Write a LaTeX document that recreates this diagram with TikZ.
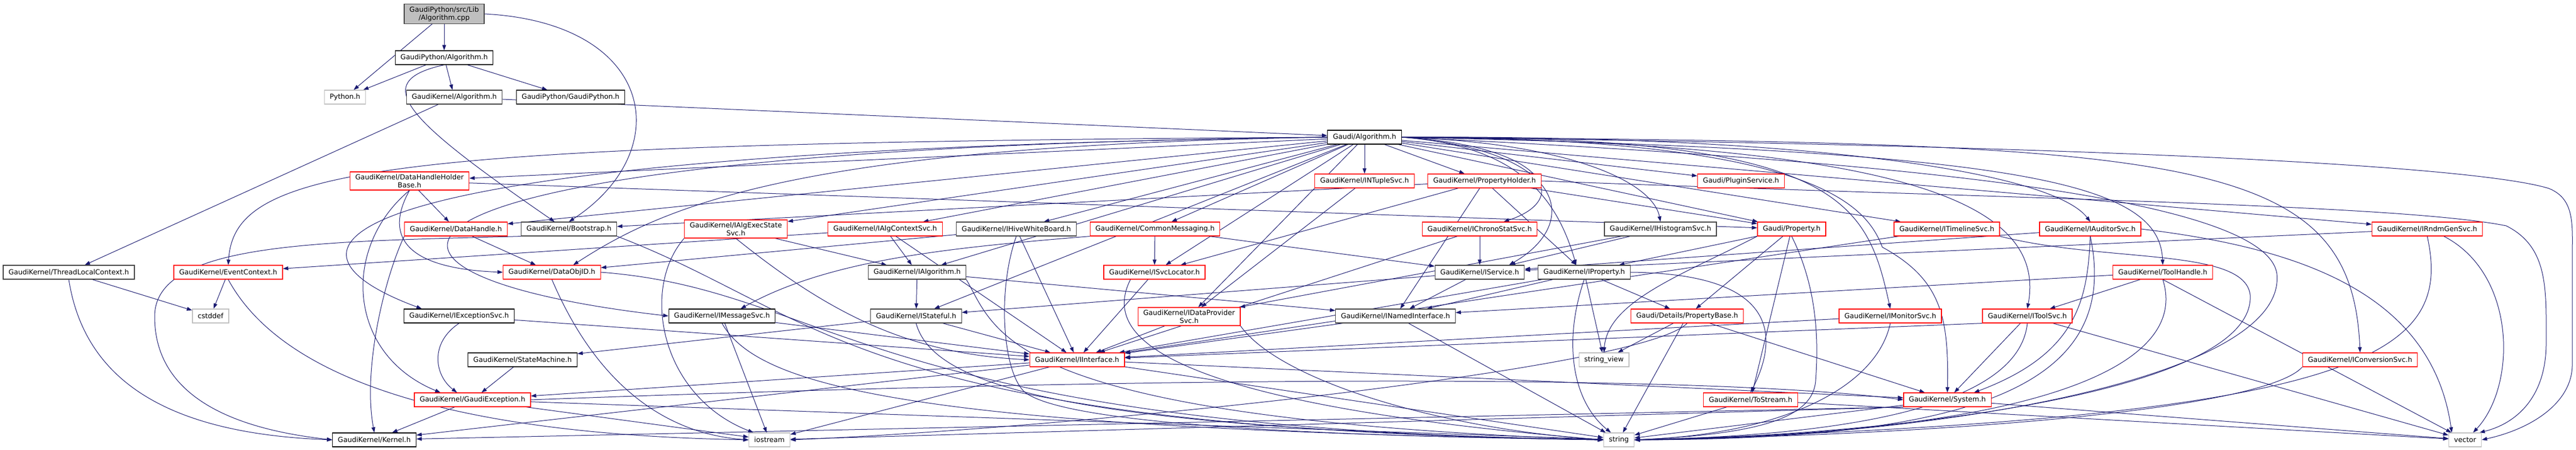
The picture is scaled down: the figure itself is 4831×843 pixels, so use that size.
\documentclass[tikz,border=0pt]{standalone}
\usepackage{fontspec}
\setmainfont{DejaVu Sans}
\usetikzlibrary{arrows.meta}
\definecolor{edgeblue}{RGB}{25,25,112}
\definecolor{boxgrey}{RGB}{64,64,64}
\definecolor{extgrey}{RGB}{191,191,191}
\definecolor{truncred}{RGB}{255,0,0}
\pgfdeclarelayer{background}
\pgfsetlayers{background,main}
\tikzset{
  filebox/.style={draw, fill=white, line width=1.2pt, inner xsep=10pt, inner ysep=4.5pt,
    minimum height=26pt, align=center, font=\fontsize{13}{15}\selectfont},
  redbox/.style={filebox, draw=truncred},
  blackbox/.style={filebox, draw=black},
  greybox/.style={filebox, draw=boxgrey},
  extbox/.style={filebox, draw=extgrey},
  rootbox/.style={filebox, draw=boxgrey, fill=extgrey},
  dep/.style={draw=edgeblue, line width=1pt, -{Triangle[length=10pt,width=7pt]}},
}
\begin{document}
\begin{tikzpicture}[x=1pt,y=1pt]
	\useasboundingbox (0,0) rectangle (4831,843);
	\node[rootbox] (root) at (833,817) {GaudiPython/src/Lib\\/Algorithm.cpp};
	\node[blackbox] (pyalg) at (833,735) {GaudiPython/Algorithm.h};
	\node[extbox] (python) at (647,661) {Python.h};
	\node[greybox] (gkalg) at (852,661) {GaudiKernel/Algorithm.h};
	\node[blackbox] (gaudipython) at (1070,661) {GaudiPython/GaudiPython.h};
	\node[blackbox] (galg) at (2559,586) {Gaudi/Algorithm.h};
	\node[redbox] (dhhb) at (768,504) {GaudiKernel/DataHandleHolder\\Base.h};
	\node[redbox] (ntuple) at (2559,504) {GaudiKernel/INTupleSvc.h};
	\node[redbox] (propholder) at (2784,504) {GaudiKernel/PropertyHolder.h};
	\node[redbox] (plugin) at (3265,504) {Gaudi/PluginService.h};
	\node[redbox] (dhandle) at (855,414) {GaudiKernel/DataHandle.h};
	\node[greybox] (bootstrap) at (1067,414) {GaudiKernel/Bootstrap.h};
	\node[redbox] (execstate) at (1380,414) {GaudiKernel/IAlgExecState\\Svc.h};
	\node[redbox] (algctx) at (1660,414) {GaudiKernel/IAlgContextSvc.h};
	\node[greybox] (hive) at (1906,414) {GaudiKernel/IHiveWhiteBoard.h};
	\node[redbox] (commsg) at (2166,414) {GaudiKernel/CommonMessaging.h};
	\node[redbox] (chrono) at (2775,414) {GaudiKernel/IChronoStatSvc.h};
	\node[greybox] (histo) at (3114,414) {GaudiKernel/IHistogramSvc.h};
	\node[redbox] (property) at (3360,414) {Gaudi/Property.h};
	\node[redbox] (timeline) at (3651,414) {GaudiKernel/ITimelineSvc.h};
	\node[redbox] (auditor) at (3920,414) {GaudiKernel/IAuditorSvc.h};
	\node[redbox] (rndm) at (4552,414) {GaudiKernel/IRndmGenSvc.h};
	\node[greybox] (tlc) at (129,333) {GaudiKernel/ThreadLocalContext.h};
	\node[redbox] (evtctx) at (428,333) {GaudiKernel/EventContext.h};
	\node[redbox] (dataobjid) at (1035,333) {GaudiKernel/DataObjID.h};
	\node[greybox] (ialg) at (1720,333) {GaudiKernel/IAlgorithm.h};
	\node[redbox] (svcloc) at (2165,333) {GaudiKernel/ISvcLocator.h};
	\node[greybox] (iservice) at (2775,333) {GaudiKernel/IService.h};
	\node[greybox] (iprop) at (2971,333) {GaudiKernel/IProperty.h};
	\node[redbox] (toolhandle) at (4056,333) {GaudiKernel/ToolHandle.h};
	\node[extbox] (cstddef) at (395,251) {cstddef};
	\node[blackbox] (excsvc) at (861,251) {GaudiKernel/IExceptionSvc.h};
	\node[blackbox] (msgsvc) at (1354,251) {GaudiKernel/IMessageSvc.h};
	\node[greybox] (stateful) at (1718,251) {GaudiKernel/IStateful.h};
	\node[redbox] (dataprov) at (2230,250) {GaudiKernel/IDataProvider\\Svc.h};
	\node[greybox] (named) at (2617,251) {GaudiKernel/INamedInterface.h};
	\node[redbox] (propbase) at (3164,251) {Gaudi/Details/PropertyBase.h};
	\node[redbox] (monitor) at (3545,251) {GaudiKernel/IMonitorSvc.h};
	\node[redbox] (toolsvc) at (3802,251) {GaudiKernel/IToolSvc.h};
	\node[blackbox] (statemachine) at (980,169) {GaudiKernel/StateMachine.h};
	\node[redbox] (iinterface) at (2020,169) {GaudiKernel/IInterface.h};
	\node[extbox] (strview) at (3008,169) {string\_view};
	\node[redbox] (convsvc) at (4426,169) {GaudiKernel/IConversionSvc.h};
	\node[redbox] (gexc) at (886,94) {GaudiKernel/GaudiException.h};
	\node[redbox] (tostream) at (3283,94) {GaudiKernel/ToStream.h};
	\node[redbox] (system) at (3652,94) {GaudiKernel/System.h};
	\node[blackbox] (kernel) at (702,19) {GaudiKernel/Kernel.h};
	\node[extbox] (iostream) at (1443,19) {iostream};
	\node[extbox] (string) at (3036,19) {string};
	\node[extbox] (vector) at (4623,19) {vector};
	\begin{pgfonlayer}{background}
	\fill[white] (0,0) rectangle (4831,843);
	\foreach \a/\b in {root/python, root/pyalg, pyalg/python, pyalg/gkalg, pyalg/gaudipython,
		gkalg/galg, gkalg/tlc,
		galg/ntuple, galg/propholder, galg/plugin, galg/dhhb, galg/dhandle, galg/execstate,
		galg/algctx, galg/hive, galg/commsg, galg/property, galg/timeline, galg/rndm,
		galg/ialg, galg/svcloc, galg/stateful, galg/dataprov,
		dhhb/dhandle, dhhb/property, ntuple/dataprov,
		propholder/property, propholder/bootstrap, propholder/svcloc, propholder/named, propholder/iprop,
		dhandle/dataobjid, execstate/ialg, algctx/evtctx, algctx/ialg, algctx/iinterface,
		hive/dataobjid, hive/iinterface, commsg/svcloc, commsg/iservice,
		chrono/iservice, chrono/iinterface, histo/iservice, histo/dataprov,
		property/iprop, property/propbase, property/tostream,
		timeline/iinterface, auditor/iservice, rndm/iservice,
		tlc/cstddef, evtctx/cstddef, ialg/stateful, ialg/named, svcloc/iinterface,
		iservice/named, iservice/stateful, iprop/propbase, iprop/strview, iprop/named, iprop/iinterface,
		toolhandle/toolsvc, toolhandle/named,
		excsvc/iinterface, msgsvc/iostream, msgsvc/iinterface, stateful/statemachine, stateful/iinterface,
		dataprov/iinterface, named/iinterface, named/string, propbase/strview, propbase/string, propbase/system,
		monitor/iinterface, toolsvc/system, toolsvc/vector,
		statemachine/gexc, iinterface/gexc, iinterface/kernel, iinterface/string, iinterface/system, iinterface/iostream,
		gexc/kernel, gexc/iostream, gexc/string, tostream/string, tostream/vector, system/string, system/vector}
		\draw[dep] (\a) -- (\b);
	\draw[dep] (root.east) .. controls (1230,800) and (1270,560) .. (bootstrap.north);
	\draw[dep] (pyalg.south) .. controls (690,690) and (760,620) .. ([xshift=-27pt]bootstrap.north);
	\draw[dep] (galg.west) .. controls (700,575) and (440,530) .. (evtctx.north);
	\draw[dep] (galg.west) .. controls (560,560) and (480,380) .. ([xshift=-70pt]excsvc.north);
	\draw[dep] (galg.west) .. controls (600,565) and (560,330) .. (msgsvc.west);
	\draw[dep] (galg.west) .. controls (1500,570) and (1250,460) .. ([xshift=40pt]dataobjid.north);
	\draw[dep] (galg.east) .. controls (2900,570) and (2950,470) .. ([xshift=45pt]chrono.north);
	\draw[dep] (galg.east) .. controls (2950,560) and (2960,420) .. ([xshift=55pt]iservice.north);
	\draw[dep] (galg.east) .. controls (2850,570) and (2920,470) .. ([xshift=-15pt]iprop.north);
	\draw[dep] (galg.east) .. controls (2950,575) and (3100,500) .. (histo.north);
	\draw[dep] (galg.east) .. controls (3400,590) and (3850,520) .. (auditor.north);
	\draw[dep] (galg.east) .. controls (3450,590) and (3500,470) .. (monitor.north);
	\draw[dep] (galg.east) .. controls (3400,585) and (3500,460) .. (3530,380) .. controls (3640,320) and (3655,250) .. (system.north);
	\draw[dep] (galg.east) .. controls (3550,575) and (3840,470) .. (toolsvc.north);
	\draw[dep] (galg.east) .. controls (3800,560) and (4050,500) .. (toolhandle.north);
	\draw[dep] (galg.east) .. controls (4100,575) and (4410,560) .. (convsvc.north);
	\draw[dep] (galg.east) .. controls (4000,570) and (4650,530) .. (4780,490) .. controls (4830,470) and (4824,420) .. (4824,360) -- (4824,160) .. controls (4824,90) and (4750,40) .. (vector.east);
	\draw[dep] (galg.east) .. controls (3600,540) and (4250,470) .. (4270,330) .. controls (4290,130) and (3600,20) .. (string.east);
	\draw[dep] (timeline.south east) .. controls (3950,350) and (4210,380) .. (4220,290) .. controls (4230,100) and (3500,25) .. (string.east);
	\draw[dep] (propholder.east) .. controls (3800,470) and (4500,460) .. (4700,420) .. controls (4780,380) and (4775,300) .. (4775,200) .. controls (4775,100) and (4720,50) .. ([xshift=27pt]vector.north);
	\draw[dep] ([xshift=31pt]rndm.south) .. controls (4720,330) and (4720,120) .. ([xshift=15pt]vector.north);
	\draw[dep] (rndm.south) .. controls (4600,180) and (4450,60) .. (string.east);
	\draw[dep] (auditor.south) .. controls (3915,280) and (3895,180) .. ([xshift=50pt]system.north);
	\draw[dep] (auditor.south) .. controls (3980,120) and (3700,20) .. (string.east);
	\draw[dep] (auditor.east) .. controls (4300,380) and (4560,300) .. ([xshift=-25pt]vector.north);
	\draw[dep] (toolhandle.south) -- (vector);
	\draw[dep] (toolhandle.south) .. controls (4110,150) and (3800,30) .. (string.east);
	\draw[dep] (toolsvc.south) .. controls (3790,120) and (3600,30) .. (string.east);
	\draw[dep] (toolsvc.south west) -- (iinterface);
	\draw[dep] (monitor.south) .. controls (3520,120) and (3350,30) .. (string.east);
	\draw[dep] (convsvc.south west) .. controls (4250,80) and (3700,30) .. (string.east);
	\draw[dep] (property.south) .. controls (3410,300) and (3410,200) .. (3405,130) .. controls (3400,60) and (3300,30) .. (string.east);
	\draw[dep] (property.south west) .. controls (3160,330) and (3015,280) .. (strview.north);
	\draw[dep] (iprop.south) .. controls (2930,200) and (2950,90) .. ([xshift=-15pt]string.north);
	\draw[dep] (iprop.east) .. controls (3350,330) and (3330,200) .. (tostream.north);
	\draw[dep] (propbase.south) .. controls (3080,150) and (2000,40) .. (iostream.east);
	\draw[dep] (dhhb.south) .. controls (720,400) and (760,340) .. (dataobjid.west);
	\draw[dep] (dhhb.south) .. controls (640,380) and (650,180) .. ([xshift=-60pt]gexc.north);
	\draw[dep] (dhandle.south west) .. controls (720,320) and (680,150) .. (kernel.north);
	\draw[dep] (bootstrap.south west) .. controls (600,390) and (290,390) .. (290,250) .. controls (290,80) and (480,35) .. (kernel.west);
	\draw[dep] (bootstrap.south east) .. controls (1550,250) and (1600,40) .. (string.west);
	\draw[dep] (execstate.south west) .. controls (1200,300) and (1240,100) .. ([xshift=-30pt]iostream.north);
	\draw[dep] (execstate.south) .. controls (1550,260) and (1700,180) .. (iinterface.west);
	\draw[dep] (commsg.south west) .. controls (1800,380) and (1560,360) .. ([xshift=35pt]msgsvc.north);
	\draw[dep] (evtctx.south) .. controls (520,150) and (800,30) .. (iostream.west);
	\draw[dep] (dataobjid.south) .. controls (1120,120) and (1250,30) .. (iostream.west);
	\draw[dep] (dataobjid.east) .. controls (1560,300) and (1620,40) .. (string.west);
	\draw[dep] (ialg.south east) .. controls (1870,220) and (1880,60) .. (string.west);
	\draw[dep] ([xshift=-45pt]svcloc.south) .. controls (2070,220) and (2150,90) .. (string.west);
	\draw[dep] (hive.south) .. controls (1870,300) and (1880,150) .. (1920,110) .. controls (2000,40) and (2600,25) .. (string.west);
	\draw[dep] (stateful.south) .. controls (1750,120) and (2000,40) .. (string.west);
	\draw[dep] (msgsvc.south) .. controls (1420,120) and (1700,40) .. (string.west);
	\draw[dep] (dataprov.south east) .. controls (2400,130) and (2700,40) .. (string.west);
	\draw[dep] (excsvc.south) .. controls (805,200) and (815,140) .. ([xshift=-29pt]gexc.north);
	\draw[dep] (tlc.south) .. controls (160,120) and (330,30) .. (kernel.west);
	\draw[dep] (gexc.east) .. controls (2500,150) and (3300,130) .. (system.west);
	\draw[dep] (system.south west) -- (kernel);
	\draw[dep] (system.south west) -- (iostream);
	\end{pgfonlayer}
\end{tikzpicture}
\end{document}
